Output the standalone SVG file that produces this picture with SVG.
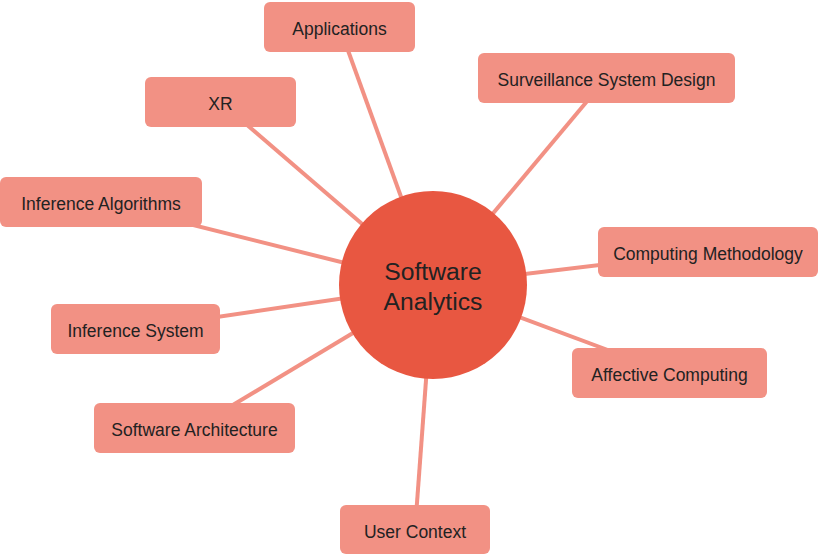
<svg xmlns="http://www.w3.org/2000/svg" width="820" height="555" viewBox="0 0 820 555">
<style>
.box{fill:#F29184;}
.lbl{font-family:"Liberation Sans",Arial,sans-serif;font-size:17.5px;fill:#222;text-anchor:middle;}
.ctr{font-family:"Liberation Sans",Arial,sans-serif;font-size:24.7px;fill:#222;text-anchor:middle;}
#connectors line{stroke:#F29184;stroke-width:4;}
</style>
<rect width="820" height="555" fill="#fff"/>
<g id="connectors">
<line x1="339.5" y1="27" x2="433" y2="285"/>
<line x1="220.5" y1="102" x2="433" y2="285"/>
<line x1="606.5" y1="78" x2="433" y2="285"/>
<line x1="101" y1="202" x2="433" y2="285"/>
<line x1="708" y1="252" x2="433" y2="285"/>
<line x1="135.5" y1="329" x2="433" y2="285"/>
<line x1="669.5" y1="373" x2="433" y2="285"/>
<line x1="194.5" y1="428" x2="433" y2="285"/>
<line x1="415" y1="530" x2="433" y2="285"/>
</g>
<g id="center">
<circle cx="433" cy="285" r="94" fill="#E85741"/>
<text class="ctr" x="433" y="279.5">Software</text>
<text class="ctr" x="433" y="309.5">Analytics</text>
</g>
<g id="applications"><rect class="box" x="264" y="2" width="151" height="50" rx="6"/><text class="lbl" x="339.5" y="35">Applications</text></g>
<g id="xr"><rect class="box" x="145" y="77" width="151" height="50" rx="6"/><text class="lbl" x="220.5" y="110">XR</text></g>
<g id="surveillance"><rect class="box" x="478" y="53" width="257" height="50" rx="6"/><text class="lbl" x="606.5" y="86">Surveillance System Design</text></g>
<g id="inference-algorithms"><rect class="box" x="0" y="177" width="202" height="50" rx="6"/><text class="lbl" x="101" y="210">Inference Algorithms</text></g>
<g id="computing-methodology"><rect class="box" x="598" y="227" width="220" height="50" rx="6"/><text class="lbl" x="708" y="260">Computing Methodology</text></g>
<g id="inference-system"><rect class="box" x="51" y="304" width="169" height="50" rx="6"/><text class="lbl" x="135.5" y="337">Inference System</text></g>
<g id="affective-computing"><rect class="box" x="572" y="348" width="195" height="50" rx="6"/><text class="lbl" x="669.5" y="381">Affective Computing</text></g>
<g id="software-architecture"><rect class="box" x="94" y="403" width="201" height="50" rx="6"/><text class="lbl" x="194.5" y="436">Software Architecture</text></g>
<g id="user-context"><rect class="box" x="340" y="505" width="150" height="49" rx="6"/><text class="lbl" x="415" y="538">User Context</text></g>
</svg>
